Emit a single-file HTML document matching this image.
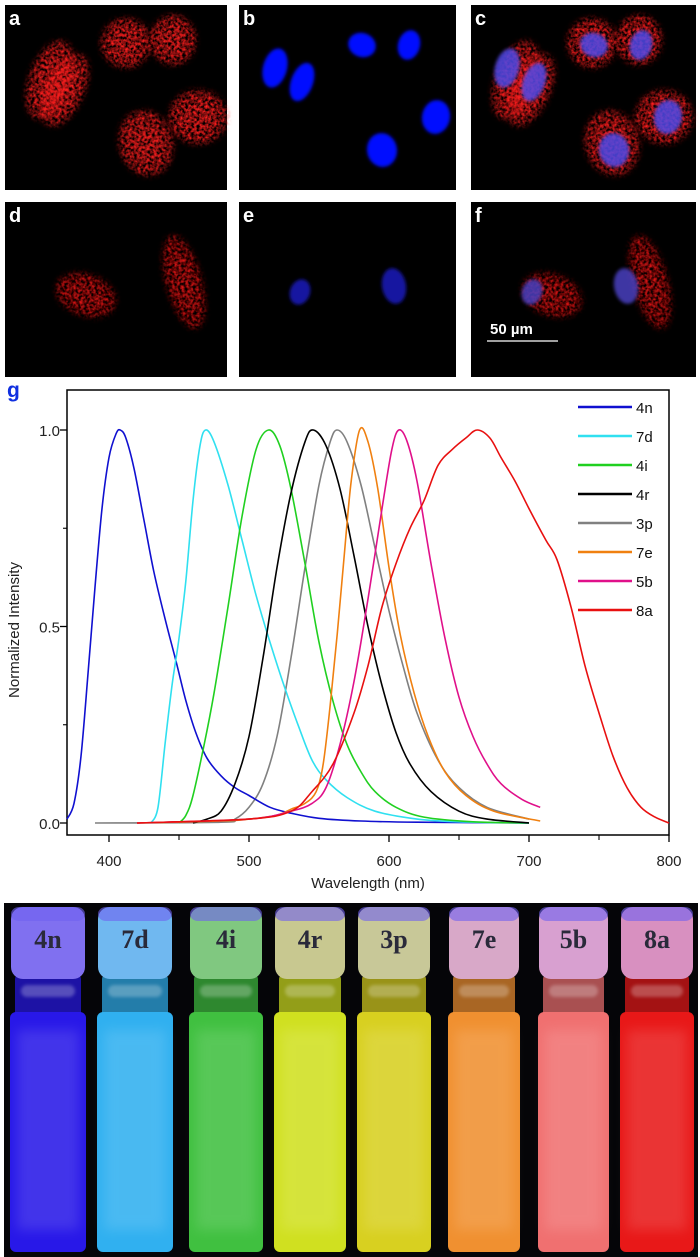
<!DOCTYPE html>
<html><head><meta charset="utf-8"><style>
html,body{margin:0;padding:0;background:#fff;width:700px;height:1257px;overflow:hidden}
svg{display:block;font-family:"Liberation Sans",Arial,sans-serif}
</style></head><body>
<svg id="fig" width="700" height="1257" viewBox="0 0 700 1257">
<defs>
<filter id="bl" x="-50%" y="-50%" width="200%" height="200%">
 <feGaussianBlur stdDeviation="3" result="b"/>
 <feTurbulence type="fractalNoise" baseFrequency="0.35" numOctaves="2" seed="3" result="n"/>
 <feColorMatrix in="n" type="matrix" values="0 0 0 0 1  0 0 0 0 1  0 0 0 0 1  0 0 0 1.8 -0.5" result="na"/>
 <feComposite in="b" in2="na" operator="in"/>
</filter>
<filter id="bl2" x="-50%" y="-50%" width="200%" height="200%"><feGaussianBlur stdDeviation="1.5"/></filter>
<filter id="bl6" x="-50%" y="-50%" width="200%" height="200%"><feGaussianBlur stdDeviation="6"/></filter>
</defs>
<g id="micro"></g>
<g id="chart"></g>
<g id="photo"></g>
</svg>
<script>
// ---------- chart data ----------
const seriesNames = ["4n","7d","4i","4r","3p","7e","5b","8a"];
const seriesColors = ["#1010d0","#30e0f0","#20d020","#000000","#808080","#f08010","#e0108a","#e81010"];
const wl_4n = [370,375,380,385,390,395,400,405,408,412,418,425,432,440,448,455,462,470,480,490,500,515,530,550,580,620,700];
const in_4n = [0.01,0.05,0.17,0.38,0.6,0.8,0.93,0.99,1.0,0.98,0.9,0.77,0.64,0.52,0.41,0.31,0.23,0.165,0.12,0.09,0.07,0.04,0.025,0.012,0.005,0.002,0];
const wl_7d = [430,435,440,445,450,455,460,465,469,475,485,495,505,515,525,535,545,555,570,590,620,650,700];
const in_7d = [0,0.04,0.2,0.35,0.47,0.62,0.82,0.96,1.0,0.97,0.86,0.72,0.58,0.46,0.35,0.25,0.16,0.11,0.065,0.03,0.01,0.003,0];
const wl_4i = [450,455,460,468,475,485,495,505,514,522,530,540,550,560,570,580,590,605,625,660,700];
const in_4i = [0,0.02,0.07,0.2,0.33,0.55,0.78,0.95,1.0,0.96,0.85,0.66,0.46,0.31,0.2,0.13,0.08,0.04,0.015,0.003,0];
const wl_4r = [460,470,480,490,500,510,520,530,540,546,555,565,575,585,595,605,615,630,650,670,700];
const in_4r = [0,0.01,0.03,0.1,0.22,0.42,0.65,0.84,0.97,1.0,0.96,0.85,0.68,0.5,0.35,0.23,0.15,0.08,0.03,0.01,0];
const wl_3p = [390,480,490,500,510,520,530,540,550,558,563,570,580,590,600,610,620,635,650,670,700];
const in_3p = [0,0.002,0.01,0.04,0.1,0.22,0.42,0.65,0.86,0.97,1.0,0.97,0.86,0.7,0.54,0.4,0.28,0.16,0.09,0.04,0.01];
const wl_7e = [420,480,500,520,530,540,548,553,558,563,568,573,579,585,592,600,608,618,628,640,655,675,708];
const in_7e = [0,0.005,0.01,0.02,0.035,0.05,0.08,0.15,0.3,0.48,0.68,0.87,1.0,0.97,0.85,0.65,0.48,0.33,0.22,0.13,0.07,0.03,0.005];
const wl_5b = [420,500,530,545,555,565,575,585,595,602,607,613,620,630,640,650,660,670,680,695,708];
const in_5b = [0,0.01,0.03,0.05,0.09,0.2,0.36,0.57,0.8,0.95,1.0,0.97,0.87,0.66,0.47,0.32,0.22,0.15,0.1,0.06,0.04];
const wl_8a = [420,500,530,545,560,575,585,595,605,615,625,635,645,655,663,672,680,690,700,712,720,730,740,750,760,770,780,790,800];
const in_8a = [0,0.01,0.03,0.08,0.15,0.28,0.4,0.55,0.66,0.75,0.82,0.91,0.95,0.98,1.0,0.98,0.93,0.87,0.8,0.72,0.67,0.55,0.4,0.28,0.17,0.09,0.04,0.015,0];
const xTicks = [400,500,600,700,800];
const yTicks = [0.0,0.5,1.0];
const xTickLabels = ["400","500","600","700","800"];
const yTickLabels = ["0.0","0.5","1.0"];

const NS="http://www.w3.org/2000/svg";
function mk(tag,attrs,parent){const e=document.createElementNS(NS,tag);for(const k in attrs)e.setAttribute(k,attrs[k]);if(parent)parent.appendChild(e);return e;}

// ---------- microscopy ----------
const micro=document.getElementById('micro');
const panels=[["a",5,5,222,185],["b",239,5,217,185],["c",471,5,225,185],["d",5,202,222,175],["e",239,202,217,175],["f",471,202,225,175]];
const redCells1=[[45,80,18,38,20],[60,90,16,36,25],[121,43,22,22,0],[168,40,20,22,0],[193,117,26,24,0],[141,143,24,30,-15]];
const nuc1=[[36,68,12,20,15],[63,82,11,20,20],[123,45,14,12,20],[170,45,11,15,15],[197,117,14,17,10],[143,150,15,17,-10]];
const redCells2=[[81,93,28,18,20],[179,80,15,45,-15]];
const nuc2=[[61,90,10,13,20],[155,84,12,18,-10]];
panels.forEach(([lab,x,y,w,h],i)=>{
  const g=mk('g',{},micro);
  
  
  mk('rect',{x:x,y:y,width:w,height:h,fill:'#000'},g);
  const row2=i>=3, col=i%3;
  const cells=row2?redCells2:redCells1, nucs=row2?nuc2:nuc1;
  if(col!==1){cells.forEach(c=>{const cx=x+c[0],cy=row2?202+c[1]:y+c[1]-5;
    mk('ellipse',{cx:cx,cy:cy,rx:c[2]+3,ry:c[3]+3,fill:row2?'#d01010':'#ff1a1a',transform:`rotate(${c[4]} ${cx} ${cy})`,filter:'url(#bl)'},g);
    mk('ellipse',{cx:cx,cy:cy,rx:c[2]*0.7,ry:c[3]*0.7,fill:'#ff2020',opacity:row2?0.35:0.55,transform:`rotate(${c[4]} ${cx} ${cy})`,filter:'url(#bl)'},g);});}
  if(col!==0){nucs.forEach(c=>{const cx=x+c[0],cy=row2?202+c[1]:y+c[1]-5;
    mk('ellipse',{cx:cx,cy:cy,rx:c[2],ry:c[3],fill:row2?(col===1?'#1818a0':'#4a40c0'):(col===1?'#0010ff':'#5048e8'),opacity:col===2?0.85:1,transform:`rotate(${c[4]} ${cx} ${cy})`,filter:'url(#bl2)'},g);});}
  const t=mk('text',{x:x+4,y:y+20,fill:'#fff','font-size':20,'font-weight':'bold'},g);t.textContent=lab;
  
  
});
const sb=mk('g',{},micro);


mk('line',{x1:487,x2:558,y1:341,y2:341,stroke:'#fff','stroke-width':1.2},sb);
const sbt=mk('text',{x:490,y:334,fill:'#fff','font-size':15,'font-weight':'bold'},sb);sbt.textContent='50 µm';

// ---------- chart ----------
const chart=document.getElementById('chart');
const X0=67,X1=669,Y0=390,Y1=835;
const xs=v=>109+(v-400)*1.4;
const ys=v=>823-v*393;
const gl=mk('text',{x:7,y:397,fill:'#1030e0','font-size':21,'font-weight':'bold'},chart);gl.textContent='g';


const frame=mk('rect',{x:X0,y:Y0,width:X1-X0,height:Y1-Y0,fill:'none',stroke:'#000','stroke-width':1.5},chart);


function smoothPath(px,py){let d=`M${px[0]},${py[0]}`;for(let i=0;i<px.length-1;i++){const p0=i?i-1:i,p3=i+2<px.length?i+2:i+1;
  const c1x=px[i]+(px[i+1]-px[p0])/6,c1y=py[i]+(py[i+1]-py[p0])/6,c2x=px[i+1]-(px[p3]-px[i])/6,c2y=py[i+1]-(py[p3]-py[i])/6;
  d+=`C${c1x.toFixed(1)},${c1y.toFixed(1)} ${c2x.toFixed(1)},${c2y.toFixed(1)} ${px[i+1].toFixed(1)},${py[i+1].toFixed(1)}`;}return d;}
const wls=[wl_4n,wl_7d,wl_4i,wl_4r,wl_3p,wl_7e,wl_5b,wl_8a], ins=[in_4n,in_7d,in_4i,in_4r,in_3p,in_7e,in_5b,in_8a];
const order=[4,0,1,2,3,5,6,7];
order.forEach(i=>{
  const p=mk('path',{d:smoothPath(wls[i].map(xs),ins[i].map(ys)),fill:'none',stroke:seriesColors[i],'stroke-width':1.6},chart);
  
  
});
xTicks.forEach((v,i)=>{mk('line',{x1:xs(v),x2:xs(v),y1:Y1,y2:Y1+7,stroke:'#000','stroke-width':1.3},chart);
  if(i<xTicks.length-1)mk('line',{x1:xs(v+50),x2:xs(v+50),y1:Y1,y2:Y1+5,stroke:'#000','stroke-width':1.1},chart);
  const t=mk('text',{x:xs(v),y:866,'text-anchor':'middle','font-size':15,fill:'#222'},chart);t.textContent=xTickLabels[i];
  
  });
yTicks.forEach((v,i)=>{mk('line',{x1:X0-7,x2:X0,y1:ys(v),y2:ys(v),stroke:'#000','stroke-width':1.3},chart);
  const t=mk('text',{x:60,y:ys(v)+6,'text-anchor':'end','font-size':15,fill:'#222'},chart);t.textContent=yTickLabels[i];
  
  });
[0.25,0.75].forEach(v=>mk('line',{x1:X0-4,x2:X0,y1:ys(v),y2:ys(v),stroke:'#000','stroke-width':1.1},chart));
const xt=mk('text',{x:368,y:888,'text-anchor':'middle','font-size':15,fill:'#222'},chart);xt.textContent='Wavelength (nm)';


const yt=mk('text',{x:0,y:0,'text-anchor':'middle','font-size':15,fill:'#222',transform:'translate(19,630) rotate(-90)'},chart);yt.textContent='Normalized Intensity';


seriesNames.forEach((n,i)=>{const g=mk('g',{},chart);
  
  
  const yy=407+i*29;
  mk('line',{x1:578,x2:632,y1:yy,y2:yy,stroke:seriesColors[i],'stroke-width':2.5},g);
  const t=mk('text',{x:636,y:yy+6,'font-size':15,fill:'#111'},g);t.textContent=n;});

// ---------- photo ----------
const photo=document.getElementById('photo');
mk('rect',{x:4,y:903,width:694,height:354,fill:'#050508'},photo);
const vialX=[9,96,188,273,356,447,537,619];
const vialW=[78,78,76,74,76,74,73,76];
const bodyCol=["#2818e8","#30b0f0","#40c040","#d0e020","#d8d020","#f09030","#f07070","#e81818"];
const capCol=["#8070f0","#70b8f0","#80c880","#c8c890","#c8c898","#d8a8c8","#d8a0d0","#d890c0"];
seriesNames.forEach((n,i)=>{const g=mk('g',{},photo);
  
  
  const x=vialX[i],w=vialW[i];
  mk('rect',{x:x+1,y:1012,width:w-2,height:240,rx:6,fill:bodyCol[i]},g);
  mk('rect',{x:x+8,y:1030,width:w-16,height:200,fill:'#fff',opacity:0.12,filter:'url(#bl6)'},g);
  mk('rect',{x:x+6,y:975,width:w-12,height:45,rx:4,fill:bodyCol[i],opacity:0.7},g);
  mk('rect',{x:x+12,y:985,width:w-24,height:12,rx:6,fill:'#fff',opacity:0.25,filter:'url(#bl2)'},g);
  mk('rect',{x:x+2,y:907,width:w-4,height:72,rx:12,fill:capCol[i]},g);
  mk('rect',{x:x+2,y:907,width:w-4,height:14,rx:8,fill:'#7060f0',opacity:0.6},g);
  const t=mk('text',{x:x+w/2,y:948,'text-anchor':'middle','font-size':26,'font-weight':'bold',fill:'#2a2a3a','font-family':'"Liberation Serif",serif'},g);t.textContent=n;});
</script>
</body></html>
